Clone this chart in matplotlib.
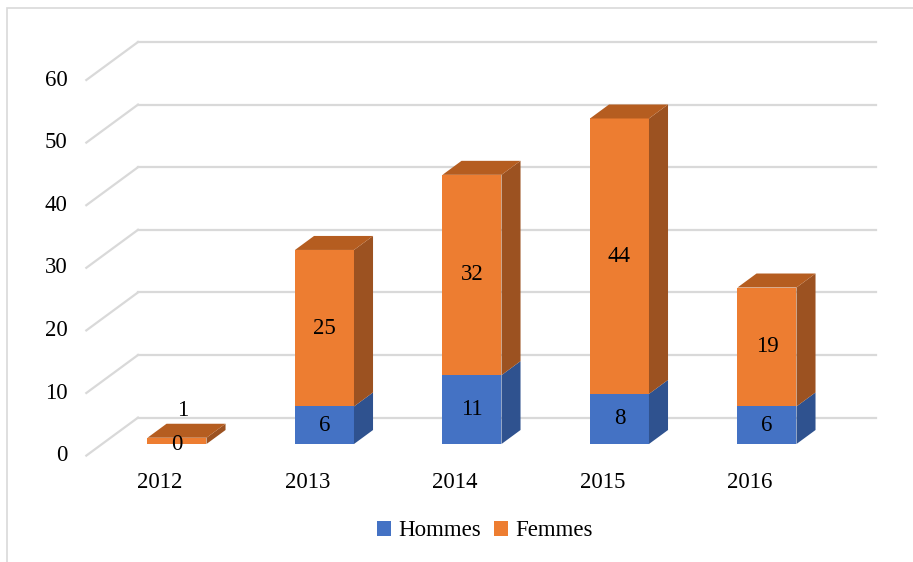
import matplotlib.pyplot as plt
from matplotlib.patches import Polygon, Patch, Rectangle

# data
years = ['2012', '2013', '2014', '2015', '2016']
hommes = [0, 6, 11, 8, 6]
femmes = [1, 25, 32, 44, 19]
ticks = [0, 10, 20, 30, 40, 50, 60]

# colours (front, side, top)
blue = ('#4472C4', '#2F528F', '#3A62A8')
orange = ('#ED7D31', '#9C5221', '#B55D20')
grid_col = '#D9D9D9'

plt.rcParams['font.family'] = ['Liberation Serif', 'DejaVu Serif']

fig = plt.figure(figsize=(9.13, 5.62), dpi=100)
ax = fig.add_axes([0, 0, 1, 1])
ax.set_xlim(-1.2, 4.99)
ax.set_ylim(-18.85, 70.93)
ax.axis('off')

# pixel -> data unit conversion
px = 1 / 147.5
py = 1 / 6.26
slope = 1.36          # horizontal shift per pixel of depth
bar_w = 0.4
bar_depth = 14        # px
wall_depth = 26.4     # px
floor_front = -11.6   # px


def shift(x, y, d):
    return x + slope * d * px, y + d * py


# frame round the chart
fig.patches.append(Rectangle((7 / 913, -0.1), 1.2, 1 - 8 / 562 + 0.1,
                             transform=fig.transFigure, fill=False,
                             edgecolor='#D9D9D9', lw=1.2))

# back wall gridlines and left floor diagonals
x_left = (138 - 177) * px
x_right = (876 - 177) * px
for v in ticks:
    bx, by = x_left, v + wall_depth * py
    ax.plot([bx, x_right], [by, by], color=grid_col, lw=1.6, zorder=1)
    fx, fy = shift(bx, by, floor_front - wall_depth)
    ax.plot([bx, fx], [by, fy], color=grid_col, lw=1.6, zorder=1)
    ax.text(fx - 19 * px, fy, str(v), ha='right', va='center', fontsize=16.5)


def draw_segment(x, y0, h, cols, top):
    l, r = x - bar_w / 2, x + bar_w / 2
    ax.add_patch(Rectangle((l, y0), bar_w, h, facecolor=cols[0], edgecolor='none', zorder=3))
    side = [(r, y0), (r, y0 + h), shift(r, y0 + h, bar_depth), shift(r, y0, bar_depth)]
    ax.add_patch(Polygon(side, closed=True, facecolor=cols[1], edgecolor='none', zorder=3))
    if top:
        tp = [(l, y0 + h), (r, y0 + h), shift(r, y0 + h, bar_depth), shift(l, y0 + h, bar_depth)]
        ax.add_patch(Polygon(tp, closed=True, facecolor=cols[2], edgecolor='none', zorder=3))


for i, (h, f) in enumerate(zip(hommes, femmes)):
    if h > 0:
        draw_segment(i, 0, h, blue, False)
    draw_segment(i, h, f, orange, True)
    ax.text(i, h / 2, str(h), ha='center', va='center', fontsize=16.5, zorder=5)
    if f < 3:
        ax.text(i + 6 * px, h + 5.4, str(f), ha='center', va='center', fontsize=16.5, zorder=5)
    else:
        ax.text(i, h + f / 2, str(f), ha='center', va='center', fontsize=16.5, zorder=5)
    ax.text(i - 17 * px, -38 * py, years[i], ha='center', va='center', fontsize=16.5)

handles = [Patch(facecolor=blue[0], label='Hommes'), Patch(facecolor=orange[0], label='Femmes')]
fig.legend(handles=handles, loc='center', bbox_to_anchor=(0.531, 1 - 531 / 562), ncol=2,
           frameon=False, fontsize=16.5, handlelength=0.6, handleheight=0.6,
           handletextpad=0.3, columnspacing=0.6)

fig.savefig('out.png', dpi=100)
